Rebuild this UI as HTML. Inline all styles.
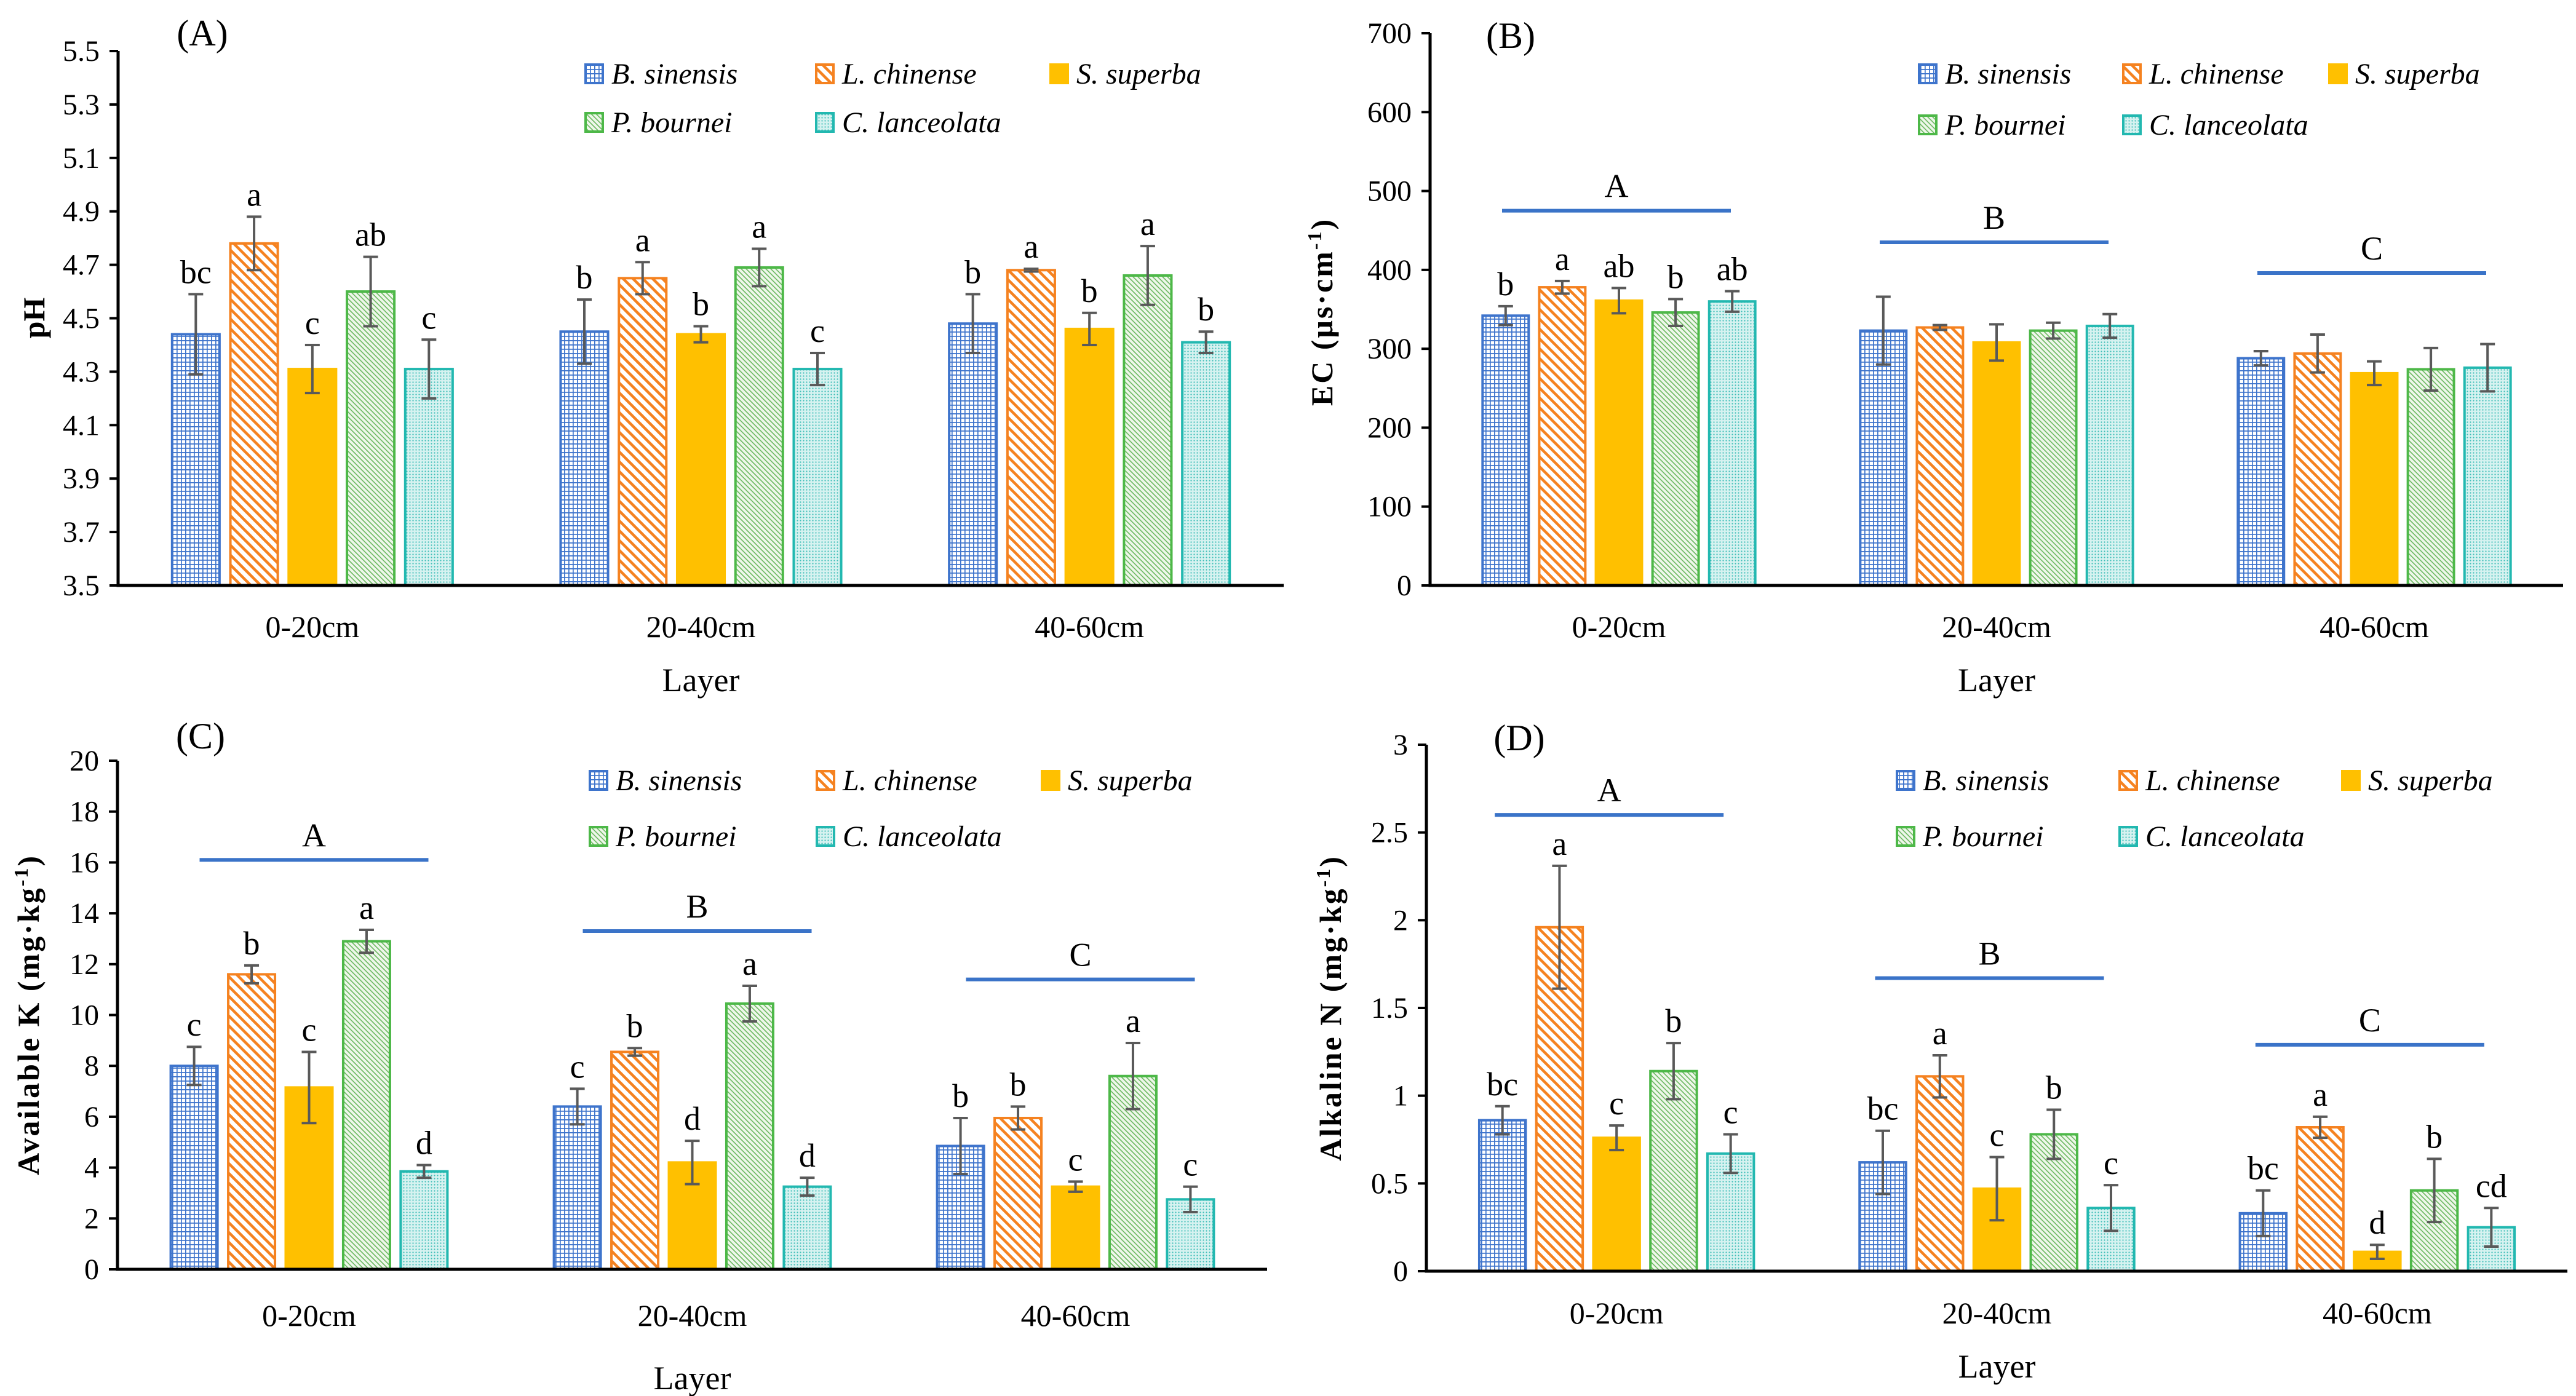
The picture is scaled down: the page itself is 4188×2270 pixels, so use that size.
<!DOCTYPE html>
<html><head><meta charset="utf-8">
<style>
html,body{margin:0;padding:0;background:#fff;}
svg{display:block;}
text{font-family:"Liberation Serif","DejaVu Serif",serif;}
</style></head>
<body>
<svg id="fig" width="4188" height="2270" viewBox="0 0 4188 2270" xmlns="http://www.w3.org/2000/svg" font-family="Liberation Serif, DejaVu Serif, serif">
<defs>
  <pattern id="p-bs" patternUnits="userSpaceOnUse" width="7" height="7">
    <rect width="7" height="7" fill="#fff"/>
    <path d="M0 0.8H7M0.8 0V7" stroke="#3E74CC" stroke-width="1.8"/>
  </pattern>
  <pattern id="p-lc" patternUnits="userSpaceOnUse" width="16" height="16">
    <rect width="16" height="16" fill="#fff"/>
    <path d="M-4 -4L20 20M-4 12L4 20M12 -4L20 4" stroke="#F58220" stroke-width="4.5"/>
  </pattern>
  <pattern id="p-pb" patternUnits="userSpaceOnUse" width="8" height="8">
    <rect width="8" height="8" fill="#eef7ea"/>
    <path d="M-2 -2L10 10M-2 6L2 10M6 -2L10 2" stroke="#6BB860" stroke-width="1.6"/>
  </pattern>
  <pattern id="p-cl" patternUnits="userSpaceOnUse" width="5" height="5">
    <rect width="5" height="5" fill="#d6f2f0"/>
    <circle cx="1.5" cy="1.5" r="1.1" fill="#3BBDB6"/>
  </pattern>
</defs>
<g id="root" font-family="Liberation Serif, DejaVu Serif, serif"></g>
</svg>
<script>
// ---- shared ----
const species = ["B. sinensis", "L. chinense", "S. superba", "P. bournei", "C. lanceolata"];
const layers = ["0-20cm", "20-40cm", "40-60cm"];

// ---- Panel A: pH ----
const phTicks = [3.5, 3.7, 3.9, 4.1, 4.3, 4.5, 4.7, 4.9, 5.1, 5.3, 5.5];
const phMeans = [[4.44, 4.78, 4.31, 4.60, 4.31], [4.45, 4.65, 4.44, 4.69, 4.31], [4.48, 4.68, 4.46, 4.66, 4.41]];
const phErr = [[0.15, 0.10, 0.09, 0.13, 0.11], [0.12, 0.06, 0.03, 0.07, 0.06], [0.11, 0.005, 0.06, 0.11, 0.04]];
const phLetters = [["bc", "a", "c", "ab", "c"], ["b", "a", "b", "a", "c"], ["b", "a", "b", "a", "b"]];

// ---- Panel B: EC ----
const ecTicks = [0, 100, 200, 300, 400, 500, 600, 700];
const ecMeans = [[342, 378, 361, 346, 360], [323, 327, 308, 323, 329], [288, 294, 269, 274, 276]];
const ecErr = [[12, 8, 16, 17, 13], [43, 3, 23, 10, 15], [9, 24, 15, 27, 30]];
const ecLetters = [["b", "a", "ab", "b", "ab"], ["", "", "", "", ""], ["", "", "", "", ""]];
const ecGroupLetters = ["A", "B", "C"];
const ecGroupLevels = [475, 435, 396];

// ---- Panel C: Available K ----
const kTicks = [0, 2, 4, 6, 8, 10, 12, 14, 16, 18, 20];
const kMeans = [[8.0, 11.6, 7.15, 12.9, 3.85], [6.4, 8.55, 4.2, 10.45, 3.25], [4.85, 5.95, 3.25, 7.6, 2.75]];
const kErr = [[0.75, 0.35, 1.4, 0.45, 0.25], [0.7, 0.15, 0.85, 0.7, 0.35], [1.1, 0.45, 0.2, 1.3, 0.5]];
const kLetters = [["c", "b", "c", "a", "d"], ["c", "b", "d", "a", "d"], ["b", "b", "c", "a", "c"]];
const kGroupLetters = ["A", "B", "C"];
const kGroupLevels = [16.1, 13.3, 11.4];

// ---- Panel D: Alkaline N ----
const nTicks = [0, 0.5, 1, 1.5, 2, 2.5, 3];
const nMeans = [[0.86, 1.96, 0.76, 1.14, 0.67], [0.62, 1.11, 0.47, 0.78, 0.36], [0.33, 0.82, 0.11, 0.46, 0.25]];
const nErr = [[0.08, 0.35, 0.07, 0.16, 0.11], [0.18, 0.12, 0.18, 0.14, 0.13], [0.13, 0.06, 0.04, 0.18, 0.11]];
const nLetters = [["bc", "a", "c", "b", "c"], ["bc", "a", "c", "b", "c"], ["bc", "a", "d", "b", "cd"]];
const nGroupLetters = ["A", "B", "C"];
const nGroupLevels = [2.6, 1.67, 1.29];

const fills = ["url(#p-bs)", "url(#p-lc)", "#FFC000", "url(#p-pb)", "url(#p-cl)"];
const strokes = ["#3E74CC", "#F58220", "#FFC000", "#4DB848", "#22B8B0"];
const FONT = "Liberation Serif, DejaVu Serif, serif";

const NS = "http://www.w3.org/2000/svg";
const root = document.getElementById("root");
function mk(tag, attrs, parent) {
  const e = document.createElementNS(NS, tag);
  for (const k in attrs) e.setAttribute(k, attrs[k]);
  if (tag === "text") e.setAttribute("font-family", FONT);
  (parent || root).appendChild(e);
  return e;
}

function drawPanel(cfg) {
  const g = mk("g", {});
  
  
  const ymin = cfg.ticks[0], ymax = cfg.ticks[cfg.ticks.length - 1];
  const yScale = v => cfg.yBot - (v - ymin) / (ymax - ymin) * (cfg.yBot - cfg.yTop);
  const band = (cfg.x1 - cfg.x0) / layers.length;
  const groupCenter = i => cfg.x0 + band * (i + 0.5);
  const step = band * 0.15, bw = band * 0.122;

  cfg.means.forEach((row, gi) => {
    row.forEach((v, si) => {
      const cx = groupCenter(gi) + (si - 2) * step;
      const yv = yScale(v);
      const r = mk("rect", {x: cx - bw / 2, y: yv, width: bw, height: cfg.yBot - yv, fill: fills[si], stroke: strokes[si], "stroke-width": 4}, g);
      
      
      const e = cfg.err[gi][si];
      const yt = yScale(v + e), yb = yScale(v - e);
      const eb = mk("path", {d: `M${cx} ${yt}V${yb}M${cx - 12} ${yt}H${cx + 12}M${cx - 12} ${yb}H${cx + 12}`, stroke: "#595959", "stroke-width": 4, fill: "none"}, g);
      
      
      const lt = cfg.letters[gi][si];
      if (lt) {
        const t = mk("text", {x: cx, y: yt - 18, "font-size": 54, "text-anchor": "middle", fill: "#000"}, g);
        t.textContent = lt;
        
        
      }
    });
  });

  if (cfg.groupLetters) {
    cfg.groupLetters.forEach((L, gi) => {
      const cx = groupCenter(gi) + cfg.lineShift, yl = yScale(cfg.groupLevels[gi]);
      const ln = mk("line", {x1: cx - 186, x2: cx + 186, y1: yl, y2: yl, stroke: "#3A73C8", "stroke-width": 6}, g);
      
      
      const t = mk("text", {x: cx, y: yl - 22, "font-size": 54, "text-anchor": "middle"}, g);
      t.textContent = L;
      
      
    });
  }

  const ax = mk("path", {d: `M${cfg.x0} ${cfg.yTop}V${cfg.yBot}H${cfg.x1}`, stroke: "#000", "stroke-width": 5, fill: "none"}, g);
  
  
  cfg.ticks.forEach(tv => {
    const y = yScale(tv);
    const tk = mk("line", {x1: cfg.x0 - 14, x2: cfg.x0, y1: y, y2: y, stroke: "#000", "stroke-width": 4}, g);
    
    
    const t = mk("text", {x: cfg.x0 - 30, y: y + 16, "font-size": 48, "text-anchor": "end"}, g);
    t.textContent = cfg.fmt(tv);
    
    
  });
  layers.forEach((L, gi) => {
    const t = mk("text", {x: groupCenter(gi), y: cfg.catY + 17, "font-size": 50, "text-anchor": "middle"}, g);
    t.textContent = L;
    
    
  });
  const xt = mk("text", {x: (cfg.x0 + cfg.x1) / 2, y: cfg.layerY + 18, "font-size": 54, "text-anchor": "middle"}, g);
  xt.textContent = "Layer";
  
  

  const yt = mk("text", {transform: `translate(${cfg.ytX},${cfg.ytY}) rotate(-90)`, "font-size": 50, "font-weight": "bold", "text-anchor": "middle", "letter-spacing": cfg.ls}, g);
  yt.innerHTML = cfg.yTitle;
  
  

  const pl = mk("text", {x: cfg.plX, y: cfg.plY + 20, "font-size": 60, "text-anchor": "middle"}, g);
  pl.textContent = cfg.label;
  
  

  species.forEach((s, si) => {
    const row = si < 3 ? 0 : 1, col = si < 3 ? si : si - 3;
    const sx = cfg.legX[col], sy = cfg.legY[row];
    const le = mk("g", {}, g);
    
    
    mk("rect", {x: sx + 2, y: sy - 15, width: 28, height: 30, fill: fills[si], stroke: strokes[si], "stroke-width": 4}, le);
    const t = mk("text", {x: sx + 44, y: sy + 16, "font-size": 48, "font-style": "italic"}, le);
    t.textContent = s;
  });
}

drawPanel({name: "panel-a-ph", label: "(A)", plX: 329, plY: 54, x0: 192, x1: 2087, yTop: 83, yBot: 952,
  ticks: phTicks, fmt: v => v.toFixed(1), means: phMeans, err: phErr, letters: phLetters,
  catY: 1019, layerY: 1106, ytX: 72, ytY: 517, ls: 0, yTitle: "pH",
  legX: [950, 1325, 1706], legY: [120, 199]});

drawPanel({name: "panel-b-ec", label: "(B)", plX: 2456, plY: 58, x0: 2325, x1: 4167, yTop: 54, yBot: 952,
  ticks: ecTicks, fmt: v => String(v), means: ecMeans, err: ecErr, letters: ecLetters,
  groupLetters: ecGroupLetters, groupLevels: ecGroupLevels, lineShift: -4,
  catY: 1019, layerY: 1106, ytX: 2166, ytY: 507, ls: 3, yTitle: 'EC (μs·cm<tspan dy="-18" font-size="32">-1</tspan><tspan dy="18">)</tspan>',
  legX: [3118, 3450, 3785], legY: [120, 203]});

drawPanel({name: "panel-c-available-k", label: "(C)", plX: 326, plY: 1197, x0: 191, x1: 2060, yTop: 1237, yBot: 2064,
  ticks: kTicks, fmt: v => String(v), means: kMeans, err: kErr, letters: kLetters,
  groupLetters: kGroupLetters, groupLevels: kGroupLevels, lineShift: 8,
  catY: 2139, layerY: 2241, ytX: 63, ytY: 1650, ls: 3, yTitle: 'Available K (mg·kg<tspan dy="-18" font-size="32">-1</tspan><tspan dy="18">)</tspan>',
  legX: [957, 1326, 1692], legY: [1269, 1360]});

drawPanel({name: "panel-d-alkaline-n", label: "(D)", plX: 2470, plY: 1200, x0: 2319, x1: 4174, yTop: 1211, yBot: 2067,
  ticks: nTicks, fmt: v => String(v), means: nMeans, err: nErr, letters: nLetters,
  groupLetters: nGroupLetters, groupLevels: nGroupLevels, lineShift: -12,
  catY: 2135, layerY: 2222, ytX: 2180, ytY: 1639, ls: 3, yTitle: 'Alkaline N (mg·kg<tspan dy="-18" font-size="32">-1</tspan><tspan dy="18">)</tspan>',
  legX: [3082, 3444, 3806], legY: [1269, 1360]});
</script>
</body></html>
